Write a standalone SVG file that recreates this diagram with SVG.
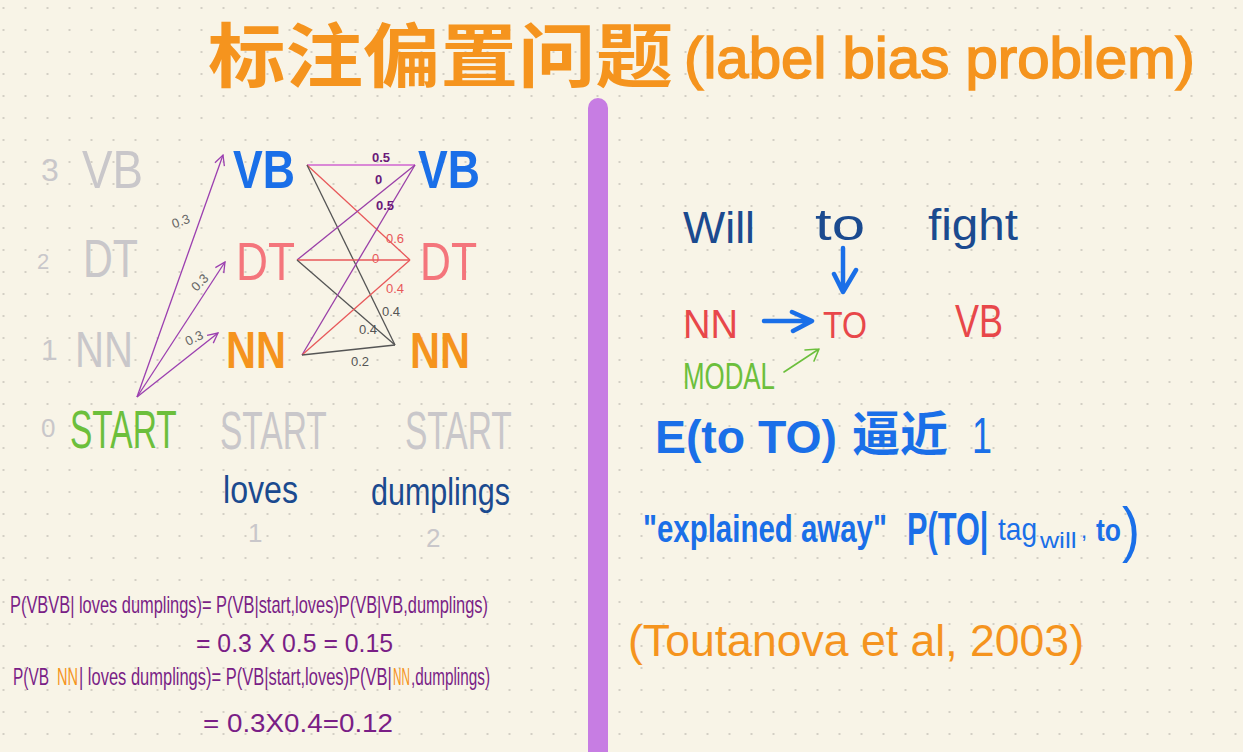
<svg xmlns="http://www.w3.org/2000/svg" width="1243" height="752" viewBox="0 0 1243 752">
<defs>
<pattern id="dots" width="22" height="22" patternUnits="userSpaceOnUse">
<rect x="2.5" y="7" width="2" height="2" fill="#d3cfc5"/>
</pattern>
<marker id="openP" viewBox="0 0 12 12" refX="11" refY="6" markerWidth="12" markerHeight="12" markerUnits="userSpaceOnUse" orient="auto">
<path d="M1,1 L11,6 L1,11" fill="none" stroke="#9b3fb0" stroke-width="1.3"/>
</marker>
<style>
text{font-family:"Liberation Sans","Noto Sans",Arial,sans-serif}
.cjk{font-family:"Noto Sans CJK SC","Noto Sans CJK JP",sans-serif}
.gray{fill:#c9c7ca}
.blue{fill:#1a6fe8}
.dblue{fill:#1b4a8f}
.pink{fill:#f4757c}
.orange{fill:#f5941e}
.green{fill:#6cbf3c}
.red{fill:#e8474a}
.purple{fill:#7a1e86}
.lbl{font-size:13px}
.ln{fill:none;stroke-width:1.3}
.fm{font-size:24px}
</style>
</defs>
<rect width="1243" height="752" fill="#f8f4e7"/>
<rect width="1243" height="752" fill="url(#dots)"/>

<g id="title">
<text class="cjk orange" x="208" y="82" font-size="70" font-weight="bold" textLength="465" lengthAdjust="spacingAndGlyphs">标注偏置问题</text>
<text class="orange" x="684" y="78" font-size="58" stroke="#f5941e" stroke-width="1.6" textLength="511" lengthAdjust="spacingAndGlyphs">(label bias problem)</text>
</g>

<rect id="divider" x="588" y="98" width="20" height="680" rx="10" fill="#c77de3"/>

<g id="axis-labels">
<text class="gray" x="41" y="181" font-size="32">3</text>
<text class="gray" x="37" y="269" font-size="22">2</text>
<text class="gray" x="41" y="360" font-size="30">1</text>
<text class="gray" x="41" y="437" font-size="26">0</text>
</g>

<g id="col0">
<text class="gray" x="82" y="188" font-size="54" textLength="61" lengthAdjust="spacingAndGlyphs">VB</text>
<text class="gray" x="83" y="277" font-size="54" textLength="55" lengthAdjust="spacingAndGlyphs">DT</text>
<text class="gray" x="75" y="367" font-size="50" textLength="58" lengthAdjust="spacingAndGlyphs">NN</text>
<text class="green" font-size="53" transform="translate(70 448) scale(0.632 1)">START</text>
</g>

<g id="col1-VB"><text class="blue" x="233" y="188" font-size="54" font-weight="bold" textLength="62" lengthAdjust="spacingAndGlyphs">VB</text></g>
<g id="col1-DT"><text class="pink" x="236" y="280" font-size="54" textLength="59" lengthAdjust="spacingAndGlyphs">DT</text></g>
<g id="col1-NN"><text class="orange" x="226" y="368" font-size="52" font-weight="bold" textLength="60" lengthAdjust="spacingAndGlyphs">NN</text></g>
<g id="col1-START"><text class="gray" font-size="53" transform="translate(220 449) scale(0.632 1)">START</text></g>

<g id="col2-VB"><text class="blue" x="418" y="188" font-size="54" font-weight="bold" textLength="62" lengthAdjust="spacingAndGlyphs">VB</text></g>
<g id="col2-DT"><text class="pink" x="420" y="280" font-size="54" textLength="57" lengthAdjust="spacingAndGlyphs">DT</text></g>
<g id="col2-NN"><text class="orange" x="410" y="368" font-size="50" font-weight="bold" textLength="60" lengthAdjust="spacingAndGlyphs">NN</text></g>
<g id="col2-START"><text class="gray" font-size="53" transform="translate(405 449) scale(0.632 1)">START</text></g>

<g id="words">
<text class="dblue" x="223" y="503" font-size="38" textLength="75" lengthAdjust="spacingAndGlyphs">loves</text>
<text class="dblue" x="371" y="505" font-size="38" textLength="139" lengthAdjust="spacingAndGlyphs">dumplings</text>
<text class="gray" x="248" y="542" font-size="26">1</text>
<text class="gray" x="426" y="547" font-size="26">2</text>
</g>

<g id="connectors">
<line class="ln" x1="137" y1="397" x2="223" y2="155" stroke="#9b3fb0" marker-end="url(#openP)"/>
<line class="ln" x1="137" y1="397" x2="225" y2="262" stroke="#9b3fb0" marker-end="url(#openP)"/>
<line class="ln" x1="137" y1="397" x2="218" y2="333" stroke="#9b3fb0" marker-end="url(#openP)"/>
<line class="ln" x1="307" y1="165" x2="415" y2="165" stroke="#d064d0"/>
<line class="ln" x1="307" y1="165" x2="410" y2="260" stroke="#e8585a"/>
<line class="ln" x1="307" y1="165" x2="395" y2="345" stroke="#555"/>
<line class="ln" x1="297" y1="260" x2="415" y2="165" stroke="#9a40a8"/>
<line class="ln" x1="297" y1="260" x2="410" y2="260" stroke="#e8585a"/>
<line class="ln" x1="297" y1="260" x2="395" y2="345" stroke="#555"/>
<line class="ln" x1="302" y1="355" x2="415" y2="165" stroke="#9a40a8"/>
<line class="ln" x1="302" y1="355" x2="410" y2="260" stroke="#e8585a"/>
<line class="ln" x1="302" y1="355" x2="395" y2="345" stroke="#555"/>
<text class="lbl" x="172" y="226" fill="#666" transform="rotate(-20 180 222)">0.3</text>
<text class="lbl" x="190" y="288" fill="#666" transform="rotate(-45 198 282)">0.3</text>
<text class="lbl" x="185" y="343" fill="#666" transform="rotate(-25 193 338)">0.3</text>
<text class="lbl" x="372" y="162" fill="#6a1a7a" font-weight="bold">0.5</text>
<text class="lbl" x="375" y="184" fill="#6a1a7a" font-weight="bold">0</text>
<text class="lbl" x="376" y="210" fill="#6a1a7a" font-weight="bold">0.5</text>
<text class="lbl" x="386" y="243" fill="#e8585a">0.6</text>
<text class="lbl" x="372" y="263" fill="#e8585a">0</text>
<text class="lbl" x="386" y="293" fill="#e8585a">0.4</text>
<text class="lbl" x="382" y="316" fill="#555">0.4</text>
<text class="lbl" x="359" y="334" fill="#555" font-size="11">0.4</text>
<text class="lbl" x="351" y="366" fill="#555">0.2</text>
</g>

<g id="formulas">
<text class="purple fm" x="10" y="613" textLength="478" lengthAdjust="spacingAndGlyphs">P(VBVB| loves dumplings)= P(VB|start,loves)P(VB|VB,dumplings)</text>
<text class="purple" x="196" y="652" font-size="26" textLength="197" lengthAdjust="spacingAndGlyphs">= 0.3 X 0.5 = 0.15</text>
<text class="purple fm" transform="translate(13 685) scale(0.643 1)">P(VB</text>
<text class="orange fm" transform="translate(57 685) scale(0.606 1)">NN</text>
<text class="purple fm" transform="translate(79 685) scale(0.687 1)">| loves dumplings)= P(VB|start,loves)P(VB|</text>
<text class="orange fm" transform="translate(393 685) scale(0.49 1)">NN</text>
<text class="purple fm" transform="translate(411 685) scale(0.637 1)">,dumplings)</text>
<text class="purple" x="203" y="732" font-size="26" textLength="190" lengthAdjust="spacingAndGlyphs">= 0.3X0.4=0.12</text>
</g>

<g id="sentence">
<text class="dblue" x="683" y="243" font-size="44" textLength="72" lengthAdjust="spacingAndGlyphs">Will</text>
<text class="dblue" x="815" y="240" font-size="44" textLength="50" lengthAdjust="spacingAndGlyphs">to</text>
<text class="dblue" x="928" y="240" font-size="44" textLength="90" lengthAdjust="spacingAndGlyphs">fight</text>
</g>

<g id="tag-NN"><text class="red" x="683" y="338" font-size="40" textLength="55" lengthAdjust="spacingAndGlyphs">NN</text></g>
<g id="tag-TO"><text class="red" x="823" y="338" font-size="36" textLength="44" lengthAdjust="spacingAndGlyphs">TO</text></g>
<g id="tag-VB"><text class="red" x="955" y="337" font-size="46" textLength="48" lengthAdjust="spacingAndGlyphs">VB</text></g>
<g id="tag-MODAL"><text class="green" x="683" y="389" font-size="36" textLength="92" lengthAdjust="spacingAndGlyphs">MODAL</text></g>

<g id="right-arrows" fill="none" stroke-linecap="round" stroke-linejoin="round">
<path d="M843,248 L843,291 M834,274 L843,292 L856,270" stroke="#1a6fe8" stroke-width="4.5"/>
<path d="M764,321 L811,321 M792,312 L812,321 L793,331" stroke="#1a6fe8" stroke-width="4.5"/>
<path d="M784,372 L819,349 M805,350 L819,349 L814,361" stroke="#6cbf3c" stroke-width="1.6"/>
</g>

<g id="claim">
<text class="blue" x="655" y="453" font-size="46" font-weight="bold" textLength="182" lengthAdjust="spacingAndGlyphs">E(to TO)</text>
<text class="cjk blue" x="852" y="451" font-size="48" font-weight="bold" textLength="96" lengthAdjust="spacingAndGlyphs">逼近</text>
<text class="blue" x="972" y="453" font-size="50" textLength="20" lengthAdjust="spacingAndGlyphs">1</text>
</g>

<g id="explained">
<text class="blue" font-size="38" font-weight="bold" transform="translate(643 542) scale(0.775 1)">"explained away"</text>
<text class="blue" font-size="46" font-weight="bold" transform="translate(907 545) scale(0.668 1)">P(TO|</text>
<text class="blue" font-size="32" transform="translate(998 540) scale(0.877 1)">tag</text>
<text class="blue" font-size="22" transform="translate(1040 548) scale(1.2 1)">will</text>
<text class="blue" x="1081" y="538" font-size="22">,</text>
<text class="blue" font-size="32" font-weight="bold" transform="translate(1096 541) scale(0.828 1)">to</text>
<text class="blue" x="1122" y="550" font-size="62" textLength="18" lengthAdjust="spacingAndGlyphs">)</text>
</g>

<g id="citation">
<text class="orange" x="628" y="656" font-size="44" textLength="456" lengthAdjust="spacingAndGlyphs">(Toutanova et al, 2003)</text>
</g>
</svg>
